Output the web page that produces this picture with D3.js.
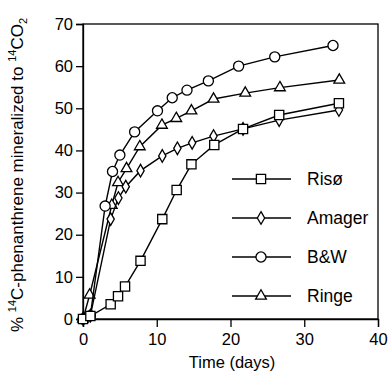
<!DOCTYPE html>
<html>
<head>
<meta charset="utf-8">
<script src="https://cdn.jsdelivr.net/npm/d3@7"></script>
<style>
  body { margin: 0; background: #fff; }
  text { font-family: "Liberation Sans", Arial, sans-serif; fill: #000; }
</style>
</head>
<body>
<div id="chart"></div>
<script>
// values (time in days, % mineralized)
const risoDays   = [0, 1, 3.75, 4.75, 5.7, 7.8, 10.75, 12.7, 14.7, 17.8, 21.7, 26.6, 34.7];
const risoVals   = [0, 0.7, 3.5, 5.4, 7.7, 13.8, 23.7, 30.6, 36.7, 41.3, 45.1, 48.4, 51.2];
const amagerDays = [0, 1, 3.75, 4.8, 5.8, 7.8, 10.75, 12.8, 14.8, 17.7, 21.7, 26.6, 34.7];
const amagerVals = [0, 0.8, 23.7, 28.7, 31.4, 35.2, 38.7, 40.5, 41.8, 43.4, 45.1, 47.2, 49.6];
const bwDays     = [0, 1, 3, 4, 5, 7, 10.1, 12.1, 14.1, 17, 21.1, 26, 33.9];
const bwVals     = [0, 0.8, 26.8, 35, 38.9, 44.4, 49.4, 52.5, 54.3, 56.5, 60, 62.2, 64.9];
const ringeDays  = [0, 0.9, 3.9, 4.75, 5.9, 7.7, 10.7, 12.65, 14.7, 17.7, 22, 26.7, 34.75];
const ringeVals  = [0, 5.7, 27, 32.4, 35.7, 40.9, 46, 47.6, 49.4, 52.2, 53.6, 54.9, 56.7];

const seriesNames = ["Risø", "Amager", "B&W", "Ringe"];
const xTicks = [0, 10, 20, 30, 40];
const yTicks = [0, 10, 20, 30, 40, 50, 60, 70];

const width = 388, height = 388;
const margin = { top: 24, right: 10, bottom: 69, left: 83 };

const svg = d3.select('#chart')
  .append('svg')
  .attr('width', width)
  .attr('height', height);

const x = d3.scaleLinear().domain([0, 40]).range([margin.left, width - margin.right]);
const y = d3.scaleLinear().domain([0, 70]).range([height - margin.bottom, margin.top]);

// frame
svg.append('rect')
  .attr('x', x(0)).attr('y', y(70))
  .attr('width', x(40) - x(0)).attr('height', y(0) - y(70))
  .attr('fill', 'none').attr('stroke', '#000').attr('stroke-width', 1.3);

const xAxis = svg.append('g')
  .attr('transform', `translate(0,${y(0)})`)
  .call(d3.axisBottom(x).tickValues(xTicks).tickSize(8).tickPadding(6));
const yAxis = svg.append('g')
  .attr('transform', `translate(${x(0)},0)`)
  .call(d3.axisLeft(y).tickValues(yTicks).tickSize(7).tickPadding(3));

[xAxis, yAxis].forEach(g => {
  g.select('.domain').attr('stroke-width', 1.3);
  g.selectAll('.tick line').attr('stroke-width', 1.3);
  g.selectAll('.tick text').style('font-size', '16.5px').attr('fill', '#000');
});

// axis titles
svg.append('text')
  .attr('x', 232).attr('y', 368)
  .attr('text-anchor', 'middle')
  .style('font-size', '16.5px')
  .text('Time (days)');

const yTitle = svg.append('text')
  .attr('transform', 'translate(23,175) rotate(-90)')
  .attr('text-anchor', 'middle')
  .style('font-size', '17px');
yTitle.append('tspan').text('% ');
yTitle.append('tspan').attr('dy', -7).style('font-size', '11px').text('14');
yTitle.append('tspan').attr('dy', 7).text('C-phenanthrene mineralized to ');
yTitle.append('tspan').attr('dy', -7).style('font-size', '11px').text('14');
yTitle.append('tspan').attr('dy', 7).text('CO');
yTitle.append('tspan').attr('dy', 4).style('font-size', '11px').text('2');

// marker shapes
const shapes = {
  "Risø": d3.symbol().type(d3.symbolSquare).size(85),
  "Amager": d3.symbol().type(d3.symbolDiamond).size(46),
  "B&W": d3.symbol().type(d3.symbolCircle).size(80),
  "Ringe": d3.symbol().type(d3.symbolTriangle).size(50)
};

const series = [
  { name: "Ringe", days: ringeDays, vals: ringeVals },
  { name: "B&W", days: bwDays, vals: bwVals },
  { name: "Amager", days: amagerDays, vals: amagerVals },
  { name: "Risø", days: risoDays, vals: risoVals }
];

const line = d3.line().x(d => x(d[0])).y(d => y(d[1]));

series.forEach(s => {
  const pts = s.days.map((d, i) => [d, s.vals[i]]);
  const g = svg.append('g');
  g.append('path')
    .attr('d', line(pts))
    .attr('fill', 'none').attr('stroke', '#000').attr('stroke-width', 1.4);
  g.selectAll('path.mk')
    .data(pts)
    .enter()
    .append('path')
    .attr('class', 'mk')
    .attr('d', shapes[s.name]())
    .attr('transform', d => `translate(${x(d[0])},${y(d[1])})`)
    .attr('fill', '#fff').attr('stroke', '#000').attr('stroke-width', 1.3);
});

// legend
const legend = svg.append('g');
seriesNames.forEach((name, i) => {
  const ly = 179 + i * 39;
  legend.append('line')
    .attr('x1', 232).attr('x2', 291).attr('y1', ly).attr('y2', ly)
    .attr('stroke', '#000').attr('stroke-width', 1.3);
  legend.append('path')
    .attr('d', shapes[name]())
    .attr('transform', `translate(261,${ly})`)
    .attr('fill', '#fff').attr('stroke', '#000').attr('stroke-width', 1.3);
  legend.append('text')
    .attr('x', 307).attr('y', ly + 6)
    .style('font-size', '17.5px')
    .text(name);
});
</script>
</body>
</html>
